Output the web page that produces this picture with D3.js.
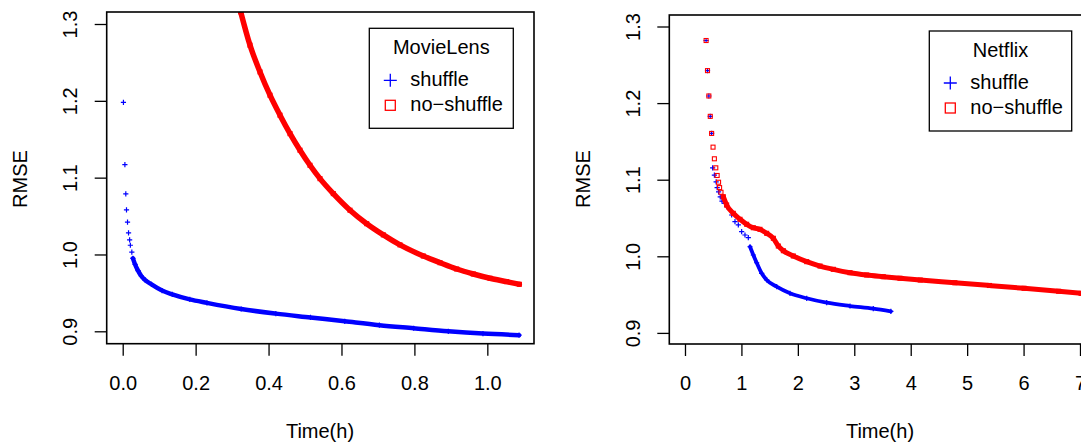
<!DOCTYPE html>
<html>
<head>
<meta charset="utf-8">
<script src="https://cdn.jsdelivr.net/npm/d3@7"></script>
<style>
  body { margin: 0; background: #fff; }
  svg { display: block; font-family: "Liberation Sans", Arial, Helvetica, sans-serif; }
  .tick line { stroke: #000; stroke-width: 1.3; }
  .tick text { font-size: 20px; fill: #000; }
</style>
</head>
<body>
<div id="chart"></div>
<script>
// --- values ---
var seriesNames = ["shuffle", "no\u2212shuffle"];

// MovieLens
var mlShuffleTime = [0.002, 0.006, 0.0085, 0.0104, 0.0132, 0.016, 0.019, 0.021, 0.025, 0.028,
  0.034, 0.042, 0.051, 0.061, 0.079, 0.108, 0.136, 0.184, 0.231, 0.325,
  0.42, 0.515, 0.609, 0.704, 0.798, 0.893, 0.988, 1.087];
var mlShuffleRmse = [1.198, 1.117, 1.079, 1.058, 1.042, 1.028, 1.019, 1.012, 1.003, 0.995,
  0.987, 0.979, 0.972, 0.967, 0.961, 0.953, 0.948, 0.9415, 0.937, 0.929,
  0.923, 0.918, 0.913, 0.908, 0.904, 0.900, 0.897, 0.895];
var mlNoShuffleTime = [0.3236, 0.3491, 0.3766, 0.404, 0.4314, 0.4589, 0.4863, 0.5137, 0.5411, 0.5776,
  0.6234, 0.6692, 0.7148, 0.7605, 0.8245, 0.8703, 0.916, 0.9616, 1.0074, 1.0532, 1.0878];
var mlNoShuffleRmse = [1.3158, 1.2724, 1.2376, 1.2073, 1.1813, 1.1573, 1.1357, 1.1161, 1.0987, 1.0792,
  1.0576, 1.0401, 1.0255, 1.0125, 0.998, 0.9893, 0.9811, 0.9746, 0.969, 0.9646, 0.9612];
var mlTicksX = [0, 0.2, 0.4, 0.6, 0.8, 1.0];

// Netflix
var nfShuffleTime = [0.374, 0.399, 0.423, 0.448, 0.472, 0.49, 0.521, 0.552, 0.57, 0.595,
  0.625, 0.656, 0.705, 0.738, 0.827, 0.886, 0.945, 1.004, 1.063, 1.122,
  1.152, 1.211, 1.27, 1.359, 1.448, 1.625, 1.861, 2.157, 2.511, 2.924,
  3.337, 3.648];
var nfShuffleRmse = [1.2817, 1.2424, 1.2093, 1.1827, 1.1604, 1.1155, 1.1059, 1.0972, 1.0897, 1.0841,
  1.0775, 1.0719, 1.069, 1.0647, 1.0539, 1.0452, 1.0409, 1.0321, 1.0278, 1.0243,
  1.0125, 1.0017, 0.9916, 0.9778, 0.9691, 0.9603, 0.9517, 0.9452, 0.9394, 0.9351,
  0.9316, 0.928];
var nfNoShuffleTime = [0.374, 0.399, 0.423, 0.448, 0.472, 0.497, 0.521, 0.546, 0.57, 0.595,
  0.613, 0.638, 0.679, 0.738, 0.856, 0.975, 1.093, 1.211, 1.329, 1.448,
  1.566, 1.654, 1.743, 1.92, 2.157, 2.393, 2.629, 2.924, 3.22, 3.514,
  3.81, 4.169, 4.782, 5.395, 6.009, 6.622, 7.02];
var nfNoShuffleRmse = [1.2817, 1.2424, 1.2093, 1.1827, 1.1604, 1.1425, 1.1273, 1.1155, 1.1055, 1.0967,
  1.0897, 1.0836, 1.0778, 1.067, 1.0561, 1.0483, 1.0418, 1.0373, 1.0352, 1.030,
  1.0235, 1.0134, 1.0073, 1.0004, 0.993, 0.9873, 0.983, 0.9786, 0.9756, 0.9734,
  0.9713, 0.969, 0.9655, 0.9619, 0.9582, 0.9543, 0.9516];
var nfTicksX = [0, 1, 2, 3, 4, 5, 6, 7, 8];

var ticksY = [0.9, 1.0, 1.1, 1.2, 1.3];

// --- helpers ---
function translate(x, y) {
  return "translate(" + x + "," + y + ")";
}

function zip(xs, ys) {
  return xs.map(function (x, i) { return [x, ys[i]]; });
}

function plusPath(r) {
  return "M" + -r + ",0H" + r + "M0," + -r + "V" + r;
}

var BLUE = "#0000ff", RED = "#ff0000";

var svg = d3.select("#chart").append("svg")
  .attr("width", 1081).attr("height", 446);

function drawPanel(p) {
  var x = d3.scaleLinear().domain(p.xDomain).range([p.left, p.right]);
  var y = d3.scaleLinear().domain([0.9, 1.3]).range(p.yRange);

  var g = svg.append("g");
  var clipId = "clip_" + p.name;
  svg.append("clipPath").attr("id", clipId).append("rect")
    .attr("x", p.left).attr("y", p.top)
    .attr("width", p.right - p.left).attr("height", p.bottom - p.top);

  var plot = g.append("g").attr("clip-path", "url(#" + clipId + ")");

  var line = d3.line()
    .x(function (d) { return x(d[0]); })
    .y(function (d) { return y(d[1]); })
    .curve(d3.curveMonotoneX);

  p.series.forEach(function (s) {
    var pts = zip(s.time, s.rmse);
    // dense run of points -> thick band
    plot.append("path")
      .datum(pts.slice(s.lineFrom))
      .attr("fill", "none")
      .attr("stroke", s.color)
      .attr("stroke-width", s.band)
      .attr("stroke-linecap", "round")
      .attr("stroke-linejoin", "round")
      .attr("d", line);

    if (s.shape === "plus") {
      plot.selectAll(null).data(pts).enter().append("path")
        .attr("transform", function (d) { return translate(x(d[0]), y(d[1])); })
        .attr("d", plusPath(2.6))
        .attr("stroke", s.color).attr("stroke-width", 1.2).attr("fill", "none");
    } else {
      plot.selectAll(null).data(pts).enter().append("rect")
        .attr("x", function (d) { return x(d[0]) - 2; })
        .attr("y", function (d) { return y(d[1]) - 2; })
        .attr("width", 4).attr("height", 4)
        .attr("stroke", s.color).attr("stroke-width", 1.1).attr("fill", "none");
    }
  });

  // box
  g.append("rect")
    .attr("x", p.left).attr("y", p.top)
    .attr("width", p.right - p.left).attr("height", p.bottom - p.top)
    .attr("fill", "none").attr("stroke", "#000").attr("stroke-width", 1.6);

  // x axis
  var ax = g.append("g").attr("transform", translate(0, p.bottom))
    .call(d3.axisBottom(x).tickValues(p.ticksX).tickSize(12).tickPadding(20)
      .tickFormat(p.xFormat));
  ax.select(".domain").remove();

  // y axis, labels parallel to the axis
  var ay = g.append("g").attr("transform", translate(p.left, 0))
    .call(d3.axisLeft(y).tickValues(ticksY).tickSize(12).tickFormat(d3.format(".1f")));
  ay.select(".domain").remove();
  ay.selectAll(".tick text")
    .attr("x", null).attr("dy", null)
    .attr("text-anchor", "middle")
    .attr("transform", "translate(" + -p.yLabelOff + ",0) rotate(-90)");

  // axis titles
  g.append("text")
    .attr("x", p.xTitleX).attr("y", 438)
    .attr("text-anchor", "middle").attr("font-size", 20)
    .text("Time(h)");
  g.append("text")
    .attr("transform", translate(p.yTitleX, 179) + " rotate(-90)")
    .attr("text-anchor", "middle").attr("font-size", 20)
    .text("RMSE");

  // legend
  var lg = g.append("g").attr("transform", translate(p.legend[0], p.legend[1]));
  lg.append("rect")
    .attr("width", p.legend[2]).attr("height", 100)
    .attr("fill", "#fff").attr("stroke", "#000").attr("stroke-width", 1.3);
  lg.append("text")
    .attr("x", p.legend[2] / 2).attr("y", 26)
    .attr("text-anchor", "middle").attr("font-size", 20)
    .text(p.title);
  seriesNames.forEach(function (name, i) {
    var cy = 52 + i * 25;
    if (i === 0) {
      lg.append("path").attr("transform", translate(21, cy))
        .attr("d", plusPath(6.5))
        .attr("stroke", BLUE).attr("stroke-width", 1.3).attr("fill", "none");
    } else {
      lg.append("rect").attr("x", 16).attr("y", cy - 5)
        .attr("width", 10).attr("height", 10)
        .attr("stroke", RED).attr("stroke-width", 1.3).attr("fill", "none");
    }
    lg.append("text")
      .attr("x", 41).attr("y", cy + 6)
      .attr("font-size", 20)
      .text(name);
  });
}

drawPanel({
  name: "ml",
  title: "MovieLens",
  left: 106.7, right: 534, top: 12, bottom: 343.7,
  xDomain: [-0.0439, 1.128],
  yRange: [331.3, 24],
  ticksX: mlTicksX,
  xFormat: d3.format(".1f"),
  xTitleX: 320, yTitleX: 26.5, yLabelOff: 30,
  legend: [369.3, 28.3, 144],
  series: [
    { time: mlShuffleTime, rmse: mlShuffleRmse, color: BLUE, shape: "plus", band: 4.5, lineFrom: 9 },
    { time: mlNoShuffleTime, rmse: mlNoShuffleRmse, color: RED, shape: "square", band: 5.5, lineFrom: 0 }
  ]
});

drawPanel({
  name: "nf",
  title: "Netflix",
  left: 669.3, right: 1110, top: 15, bottom: 344,
  xDomain: [-0.278, (1110 - 685) / 56.43],
  yRange: [332.9, 26.5],
  ticksX: nfTicksX,
  xFormat: d3.format("d"),
  xTitleX: 880, yTitleX: 590, yLabelOff: 29,
  legend: [929.3, 31, 142.4],
  series: [
    { time: nfShuffleTime, rmse: nfShuffleRmse, color: BLUE, shape: "plus", band: 3.8, lineFrom: 20 },
    { time: nfNoShuffleTime, rmse: nfNoShuffleRmse, color: RED, shape: "square", band: 5, lineFrom: 12 }
  ]
});
</script>
</body>
</html>
